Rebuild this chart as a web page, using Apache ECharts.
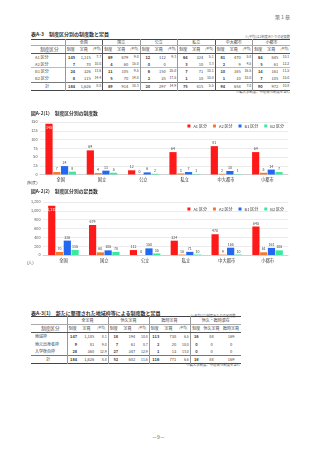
<!DOCTYPE html>
<html>
<head>
<meta charset="utf-8">
<script src="https://cdn.jsdelivr.net/npm/echarts@6/dist/echarts.min.js"></script>
<style>
  body { margin: 0; width: 320px; height: 453px; background: #fff; position: relative; overflow: hidden;
         font-family: 'Noto Sans CJK JP', 'Noto Sans', sans-serif; color: #333; }
  .abs { position: absolute; white-space: nowrap; }
  table { border-collapse: collapse; table-layout: fixed; font-size: 4px; color: #444; }
  td { padding: 0 0.8px; text-align: right; overflow: hidden; white-space: nowrap; }
  #t1 td { height: 6.7px; line-height: 6.7px; }
  #t2 td { height: 7.2px; line-height: 7.2px; }
  #t1 tr.h1 td { height: 5.3px; line-height: 5.3px; }
  tr.h1 td { text-align: center; border-bottom: 0.5px solid #aaa; }
  tr.h2 td { text-align: center; border-bottom: 0.6px solid #555; }
  td.lab { text-align: left; padding-left: 4px; }
  td.g { border-left: 0.5px solid #999; }
  td.gg { border-left: 1.4px solid #555; }
  td.b { font-weight: bold; }
  td.s { font-size: 3px; }
  tr.sep td { border-top: 0.4px solid #bbb; }
  tr.tot td { border-top: 0.6px solid #777; }
</style>
</head>
<body>
<div class="abs" style="right:30px;top:13px;font-size:5px;color:#555;">第１章</div>

<div class="abs" style="left:31px;top:30px;font-size:5px;font-weight:bold;color:#333;">表A-3　制度区分別の制度数と定員</div>
<div class="abs" style="right:30px;top:34px;font-size:3.2px;color:#666;">※(平均)は1制度あたりの定員数</div>
<table id="t1" class="abs" style="left:31px;top:39px;width:259px;border-top:0.7px solid #444;border-bottom:0.8px solid #444;"></table>
<div class="abs" style="right:30px;top:89px;font-size:3.4px;color:#555;">※編入学制度、中途発令制度を含む</div>

<div id="c1" class="abs" style="left:0;top:108px;width:320px;height:78px;"></div>
<div id="c2" class="abs" style="left:0;top:186px;width:320px;height:86px;"></div>

<div class="abs" style="left:31px;top:309px;font-size:5px;font-weight:bold;color:#333;">表A-3(1)　新たに整理された地域枠等による制度数と定員</div>
<div class="abs" style="left:190px;top:313px;font-size:3.2px;color:#666;">※(平均)は1制度あたりの定員数</div>
<table id="t2" class="abs" style="left:31px;top:316px;width:210px;border-top:0.7px solid #444;border-bottom:0.8px solid #444;"></table>
<div class="abs" style="left:186px;top:362px;font-size:3.4px;color:#555;">※編入学制度、中途発令制度を含む</div>

<div class="abs" style="left:152px;top:433px;font-size:5px;color:#555;">－9－</div>

<script>
// 分類
var cats = ['全国', '国立', '公立', '私立', '中大都市', '小都市'];
var kubun = ['A1 区分', 'A2 区分', 'B1 区分', 'B2 区分'];
var rowNames = ['A1 区分', 'A2 区分', 'B1 区分', 'B2 区分', '計'];

// 制度数
var cntA1 = [145, 69, 12, 64, 81, 64];
var cntA2 = [7, 4, 0, 3, 2, 5];
var cntB1 = [24, 11, 6, 7, 10, 14];
var cntB2 = [8, 5, 2, 1, 1, 7];
var cntAll = [184, 89, 20, 75, 94, 90];

// 定員数
var capA1 = [1115, 679, 112, 324, 470, 645];
var capA2 = [70, 60, 0, 10, 9, 61];
var capB1 = [326, 105, 150, 71, 165, 161];
var capB2 = [115, 70, 35, 10, 10, 105];
var capAll = [1626, 914, 297, 415, 654, 972];

// 平均
var avgA1 = ['7.7', '9.8', '9.3', '5.1', '5.8', '10.1'];
var avgA2 = ['10.0', '15.0', '', '3.3', '4.5', '12.2'];
var avgB1 = ['13.6', '9.5', '25.0', '10.1', '16.5', '11.5'];
var avgB2 = ['14.4', '14.0', '17.5', '10.0', '10.0', '15.0'];
var avgAll = ['8.8', '10.3', '14.9', '5.5', '7.0', '10.8'];

// 表A-3(1)
var wakuRows = ['地域枠', '地元出身者枠', '入学後自枠', '計'];
var wakuGroups = ['全定員', '恒久定員', '臨時定員', '恒久・臨時混在'];
var zenCnt = [147, 9, 28, 184];
var zenCap = [1185, 81, 360, 1626];
var zenAvg = ['8.1', '9.0', '12.9', '8.8'];
var kouCnt = [18, 7, 27, 52];
var kouCap = [194, 61, 347, 602];
var kouAvg = ['10.8', '8.7', '12.9', '11.6'];
var rinCnt = [113, 2, 1, 116];
var rinCap = [738, 20, 13, 771];
var rinAvg = ['6.5', '10.0', '13.0', '6.6'];
var mixCnt = [16, 0, 0, 16];
var mixKou = [84, 0, 0, 84];
var mixRin = [169, 0, 0, 169];

var colors = ['#ff1a1a', '#f07a30', '#2468f2', '#3ae8a0'];

function fmt(n) { return String(n).replace(/\B(?=(\d{3})+(?!\d))/g, ','); }

// ---- 表A-3 ----
(function () {
    var cnt = [cntA1, cntA2, cntB1, cntB2, cntAll];
    var cap = [capA1, capA2, capB1, capB2, capAll];
    var avg = [avgA1, avgA2, avgB1, avgB2, avgAll];
    var h = '<colgroup><col style="width:34px">';
    for (var g = 0; g < 6; g++) h += '<col style="width:11px"><col style="width:15.5px"><col style="width:11px">';
    h += '</colgroup>';
    h += '<tr class="h1"><td></td>';
    cats.forEach(function (c, i) { h += '<td colspan="3" class="' + (i == 1 || i == 4 ? 'gg' : 'g') + '">' + c + '</td>'; });
    h += '</tr><tr class="h2"><td class="lab" style="font-size:4.6px">制度区分</td>';
    cats.forEach(function (c, i) {
        h += '<td class="' + (i == 1 || i == 4 ? 'gg' : 'g') + '">制度</td><td>定員</td><td class="s">(平均)</td>';
    });
    h += '</tr>';
    rowNames.forEach(function (r, k) {
        var cls = k == 2 ? 'sep' : (k == 4 ? 'tot' : '');
        h += '<tr class="' + cls + '"><td class="lab" style="' + (k == 4 ? 'text-align:center;padding-left:0' : '') + '">' + r + '</td>';
        for (var i = 0; i < 6; i++) {
            h += '<td class="b ' + (i == 1 || i == 4 ? 'gg' : 'g') + '">' + cnt[k][i] + '</td><td>' + fmt(cap[k][i]) + '</td><td style="font-size:3.5px">' + avg[k][i] + '</td>';
        }
        h += '</tr>';
    });
    document.getElementById('t1').innerHTML = h;
})();

// ---- 表A-3(1) ----
(function () {
    var h = '<colgroup><col style="width:36px">';
    for (var g = 0; g < 3; g++) h += '<col style="width:11px"><col style="width:17px"><col style="width:13px">';
    h += '<col style="width:12px"><col style="width:19px"><col style="width:20px"></colgroup>';
    h += '<tr class="h1"><td></td>';
    wakuGroups.forEach(function (c) { h += '<td colspan="3" class="g">' + c + '</td>'; });
    h += '</tr><tr class="h2"><td class="lab" style="font-size:4.6px">制度区分</td>';
    for (var g = 0; g < 3; g++) h += '<td class="g">制度</td><td>定員</td><td class="s">(平均)</td>';
    h += '<td class="g">制度</td><td style="text-align:center">恒久定員</td><td style="text-align:center">臨時定員</td></tr>';
    wakuRows.forEach(function (r, k) {
        h += '<tr class="' + (k == 3 ? 'tot' : '') + '"><td class="lab" style="' + (k == 3 ? 'text-align:center;padding-left:0' : '') + '">' + r + '</td>' +
            '<td class="b g">' + zenCnt[k] + '</td><td>' + fmt(zenCap[k]) + '</td><td style="font-size:3.5px">' + zenAvg[k] + '</td>' +
            '<td class="b g">' + kouCnt[k] + '</td><td>' + kouCap[k] + '</td><td style="font-size:3.5px">' + kouAvg[k] + '</td>' +
            '<td class="b g">' + rinCnt[k] + '</td><td>' + rinCap[k] + '</td><td style="font-size:3.5px">' + rinAvg[k] + '</td>' +
            '<td class="b g" style="text-align:center">' + mixCnt[k] + '</td><td style="text-align:center">' + mixKou[k] + '</td><td style="text-align:center">' + mixRin[k] + '</td></tr>';
    });
    document.getElementById('t2').innerHTML = h;
})();

// ---- 棒グラフ ----
function barOption(title, unit, lists, yMax, yInt, gridTop, gridBottom, gridLeft, legendTop) {
    return {
        animation: false,
        textStyle: { fontFamily: 'Noto Sans CJK JP' },
        title: { text: title, left: 31, top: 3, padding: 0, textStyle: { fontSize: 4.8, fontWeight: 'bold', color: '#333' } },
        legend: {
            top: legendTop, right: 36, itemWidth: 3, itemHeight: 3, itemGap: 6, padding: 0,
            icon: 'rect', textStyle: { fontSize: 4, color: '#333', padding: [0, 0, 0, -2] },
            data: kubun
        },
        grid: { left: gridLeft, right: 32, top: gridTop, bottom: gridBottom, containLabel: false },
        xAxis: {
            type: 'category', data: cats,
            axisLine: { lineStyle: { color: '#bfbfbf', width: 0.6 } },
            axisTick: { show: false },
            axisLabel: { fontSize: 4.2, color: '#333', margin: 3 }
        },
        yAxis: {
            type: 'value', min: 0, max: yMax, interval: yInt,
            axisLabel: { fontSize: 3.8, color: '#555', margin: 2.5, formatter: function (v) { return fmt(v); } },
            splitLine: { lineStyle: { color: '#d9d9d9', width: 0.5 } },
            axisLine: { show: false }, axisTick: { show: false }
        },
        graphic: [{ type: 'text', left: 27, bottom: gridBottom - 10, style: { text: unit, fontSize: 4, fill: '#555' } }],
        series: lists.map(function (arr, k) {
            return {
                name: kubun[k], type: 'bar', barWidth: 7.2, barGap: '8%',
                itemStyle: { color: colors[k] },
                label: { show: true, position: 'top', distance: 1.5, fontSize: 3.6, color: '#444', formatter: function (p) { return fmt(p.value); } },
                data: arr.map(function (v, i) {
                    if (k == 0 && i == 0) return { value: v, label: { position: 'insideTop', color: '#fff', distance: 2 } };
                    return v;
                })
            };
        })
    };
}

var chart1 = echarts.init(document.getElementById('c1'));
chart1.setOption(barOption('図A-2(1)　制度区分別の制度数', '(制度)', [cntA1, cntA2, cntB1, cntB2], 150, 25, 14, 11.5, 40, 16));

var chart2 = echarts.init(document.getElementById('c2'));
chart2.setOption(barOption('図A-2(2)　制度区分別の定員数', '(人)', [capA1, capA2, capB1, capB2], 1200, 200, 16, 17, 43, 21));
</script>
</body>
</html>
